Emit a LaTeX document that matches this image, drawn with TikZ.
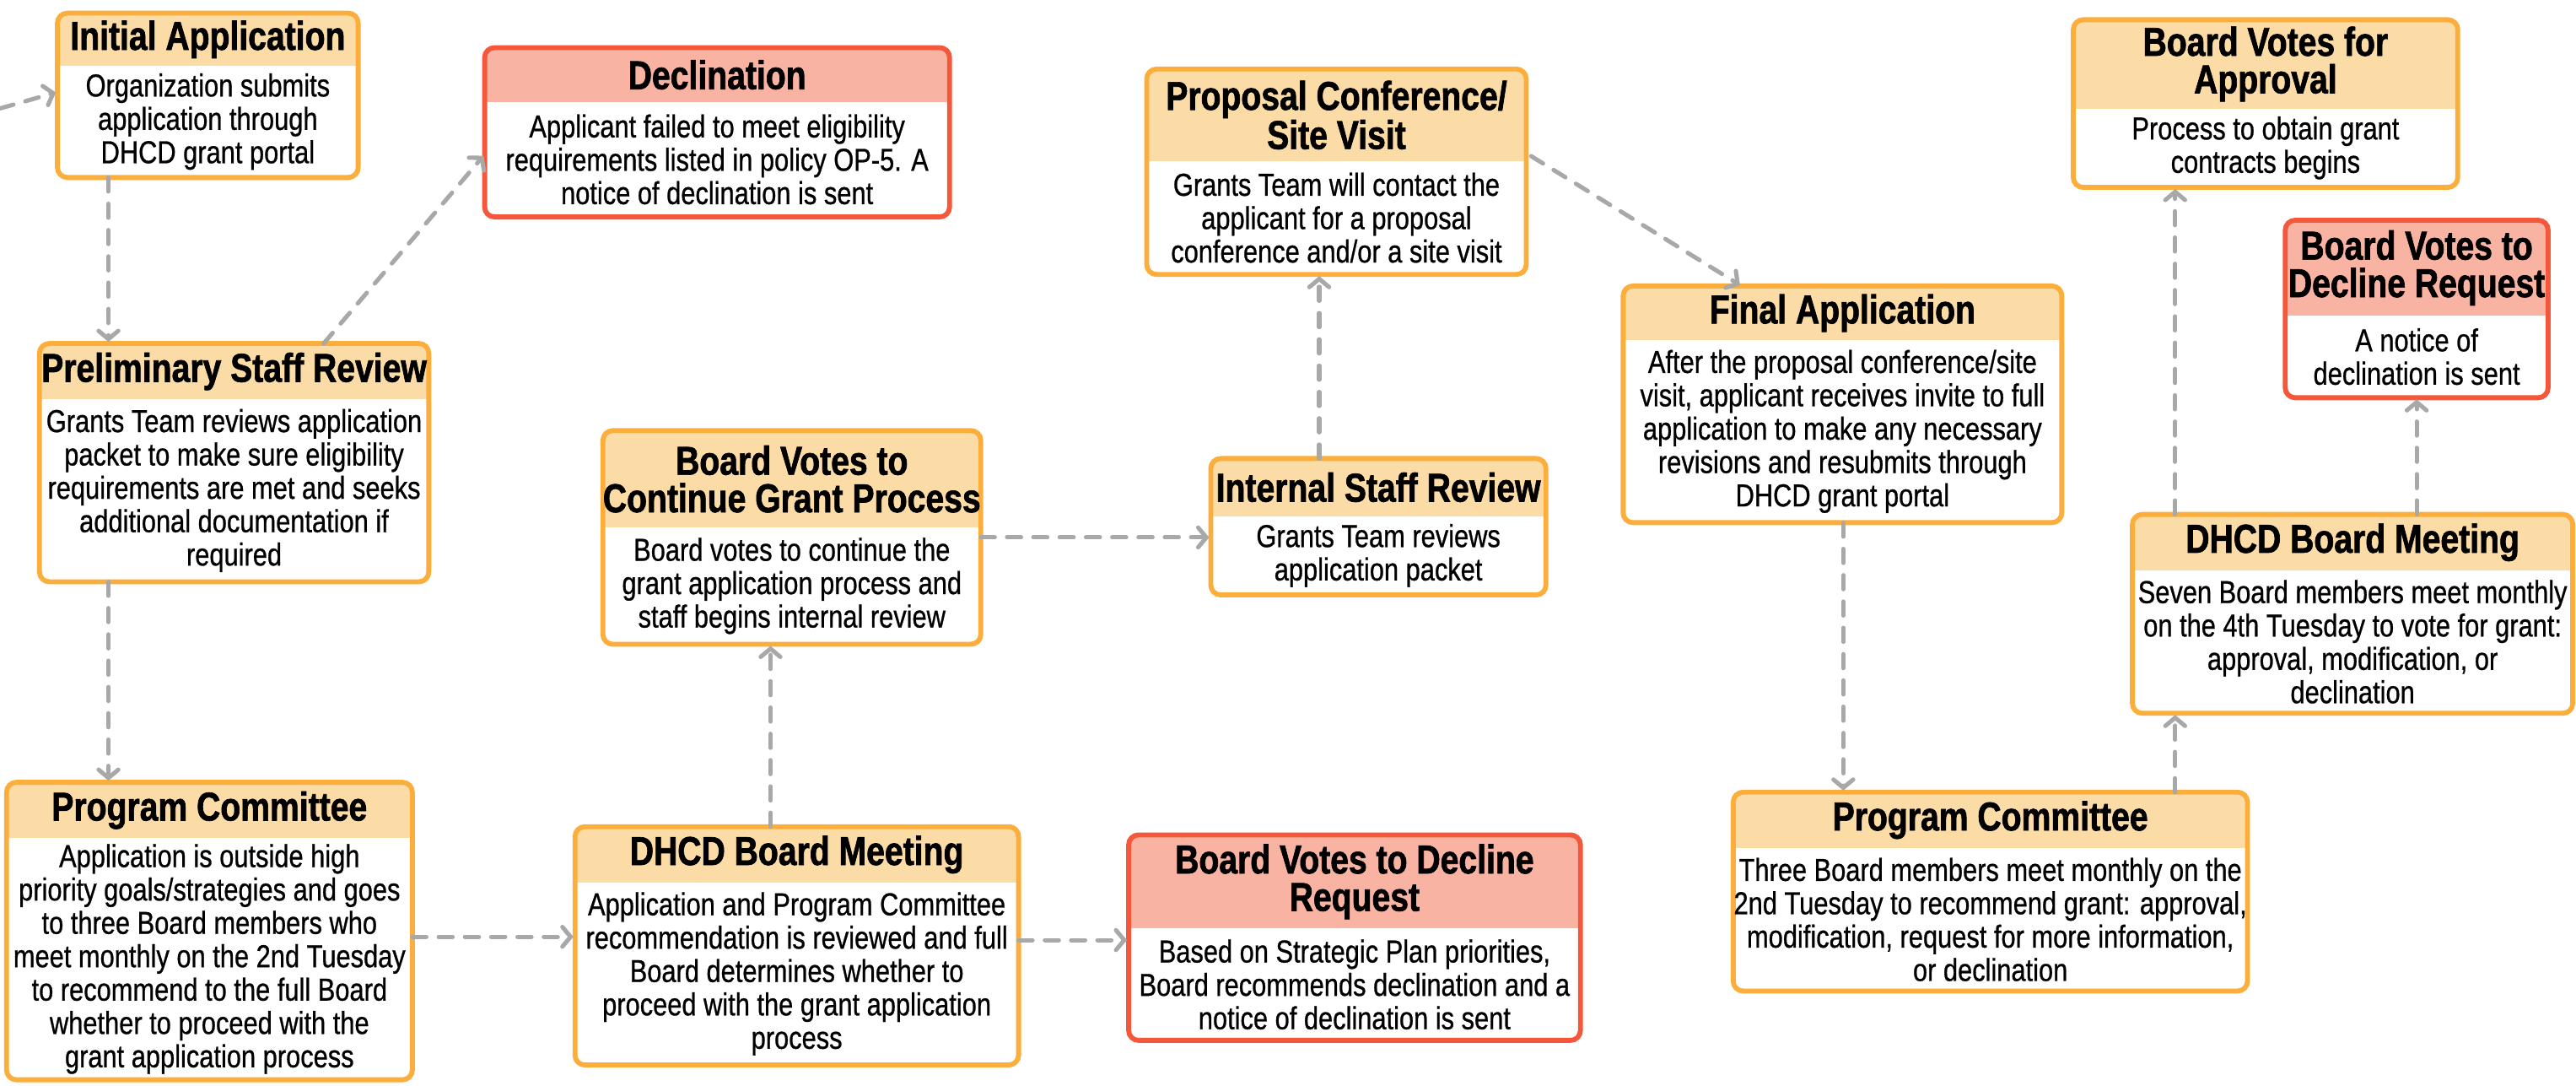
\documentclass[tikz,border=0pt]{standalone}
\usepackage{fontspec}
\setmainfont[FakeStretch=0.82, UprightFeatures={FakeBold=0.7}, BoldFeatures={FakeBold=1.4}]{Liberation Sans}
\usetikzlibrary{arrows.meta,fit}
\definecolor{obord}{HTML}{FBAE3B}
\definecolor{ohead}{HTML}{FCDCA6}
\definecolor{rbord}{HTML}{F5573A}
\definecolor{rhead}{HTML}{F9B3A3}
\definecolor{arrgray}{HTML}{A8A8A8}
\tikzset{
  boxarea/.style={inner sep=0pt, outer sep=0pt},
  titletext/.style={align=center, font=\fontsize{24.5}{22.8}\selectfont\bfseries, inner sep=0pt},
  bodytext/.style={align=center, font=\fontsize{19.3}{20.3}\selectfont, inner sep=0pt},
  link/.style={draw=arrgray, line width=2.6pt, line cap=round, dash pattern=on 8.5pt off 7.5pt,
    -{Straight Barb[length=5pt,width=12pt,line cap=round]}, shorten >=1pt},
}
\newcommand\flowbox[9]{%
  \node[boxarea, fit={(#2,#3)(#4,#5)}] (#1) {};
  \begin{scope}
    \clip[rounded corners=6pt] (#1.south west) rectangle (#1.north east);
    \fill[white] (#1.south west) rectangle (#1.north east);
    \fill[#7head] (#2,#3) rectangle (#4,#6);
  \end{scope}
  \draw[#7bord, line width=3pt, rounded corners=6pt] (#1.south west) rectangle (#1.north east);
  \node[titletext] (#1t) at ({(#2+#4)/2},{(#3+#6)/2}) {#8};
  \node[bodytext] (#1b) at ({(#2+#4)/2},{(#6+#5)/2}) {#9};
}
\begin{document}
\begin{tikzpicture}[x=1pt,y=-1pt]
\useasboundingbox (0,0) rectangle (1568,660.3);
\flowbox{IA}{35}{8}{218}{108}{40}{o}{Initial Application}{Organization submits\\application through\\DHCD grant portal}
\flowbox{DEC}{295}{29}{578}{132}{62}{r}{Declination}{Applicant failed to meet eligibility\\requirements listed in policy OP-5. A\\notice of declination is sent}
\flowbox{PSR}{24}{209}{261}{354}{243}{o}{Preliminary Staff Review}{Grants Team reviews application\\packet to make sure eligibility\\requirements are met and seeks\\additional documentation if\\required}
\flowbox{PCA}{4}{476}{251}{657}{510}{o}{Program Committee}{Application is outside high\\priority goals/strategies and goes\\to three Board members who\\meet monthly on the 2nd Tuesday\\to recommend to the full Board\\whether to proceed with the\\grant application process}
\flowbox{BVC}{367}{262}{597}{392}{321}{o}{Board Votes to\\Continue Grant Process}{Board votes to continue the\\grant application process and\\staff begins internal review}
\flowbox{ISR}{737}{279}{941}{362}{314}{o}{Internal Staff Review}{Grants Team reviews\\application packet}
\flowbox{PCSV}{698}{42}{929}{167}{98}{o}{Proposal Conference/\\Site Visit}{Grants Team will contact the\\applicant for a proposal\\conference and/or a site visit}
\flowbox{DBMA}{350}{503}{620}{648}{537}{o}{DHCD Board Meeting}{Application and Program Committee\\recommendation is reviewed and full\\Board determines whether to\\proceed with the grant application\\process}
\flowbox{BVDA}{687}{508}{962}{633}{565}{r}{Board Votes to Decline\\Request}{Based on Strategic Plan priorities,\\Board recommends declination and a\\notice of declination is sent}
\flowbox{FA}{988}{174}{1255}{318}{207}{o}{Final Application}{After the proposal conference/site\\visit, applicant receives invite to full\\application to make any necessary\\revisions and resubmits through\\DHCD grant portal}
\flowbox{PCB}{1055}{482}{1368}{603}{516}{o}{Program Committee}{Three Board members meet monthly on the\\2nd Tuesday to recommend grant: approval,\\modification, request for more information,\\or declination}
\flowbox{DBMB}{1298}{313}{1566}{434}{347}{o}{DHCD Board Meeting}{Seven Board members meet monthly\\on the 4th Tuesday to vote for grant:\\approval, modification, or\\declination}
\flowbox{BVA}{1262}{12}{1496}{114}{66}{o}{Board Votes for\\Approval}{Process to obtain grant\\contracts begins}
\flowbox{BVDB}{1391}{134}{1551}{242}{192}{r}{Board Votes to\\Decline Request}{A notice of\\declination is sent}
% guide coordinates
\coordinate (src) at (0,66);
\coordinate (va) at (66,0);
\coordinate (vb) at (469,0);
\coordinate (vc) at (803,0);
\coordinate (vd) at (1122,0);
\coordinate (ve) at (1324,0);
\coordinate (vf) at (1471,0);
\coordinate (ha) at (0,570);
\coordinate (hb) at (0,327);
\coordinate (hc) at (0,572);
\coordinate (hd) at (0,94);
\coordinate (pa) at (197,0);
\coordinate (pb) at (1060,0);
\coordinate (pc) at (0,95);
% connectors
\draw[link] (src) -- ([yshift=2pt]IA.west);
\draw[link] (IA.south -| va) -- (PSR.north -| va);
\draw[link] (PSR.north -| pa) -- (DEC.west |- hd);
\draw[link] (PSR.south -| va) -- (PCA.north -| va);
\draw[link] (PCA.east |- ha) -- (DBMA.west |- ha);
\draw[link] (DBMA.north -| vb) -- (BVC.south -| vb);
\draw[link] (BVC.east |- hb) -- (ISR.west |- hb);
\draw[link] (ISR.north -| vc) -- (PCSV.south -| vc);
\draw[link] ([xshift=3pt]PCSV.east |- pc) -- (FA.north -| pb);
\draw[link] (DBMA.east |- hc) -- (BVDA.west |- hc);
\draw[link] (FA.south -| vd) -- (PCB.north -| vd);
\draw[link] (PCB.north -| ve) -- (DBMB.south -| ve);
\draw[link] (DBMB.north -| ve) -- (BVA.south -| ve);
\draw[link] (DBMB.north -| vf) -- (BVDB.south -| vf);
\end{tikzpicture}
\end{document}
